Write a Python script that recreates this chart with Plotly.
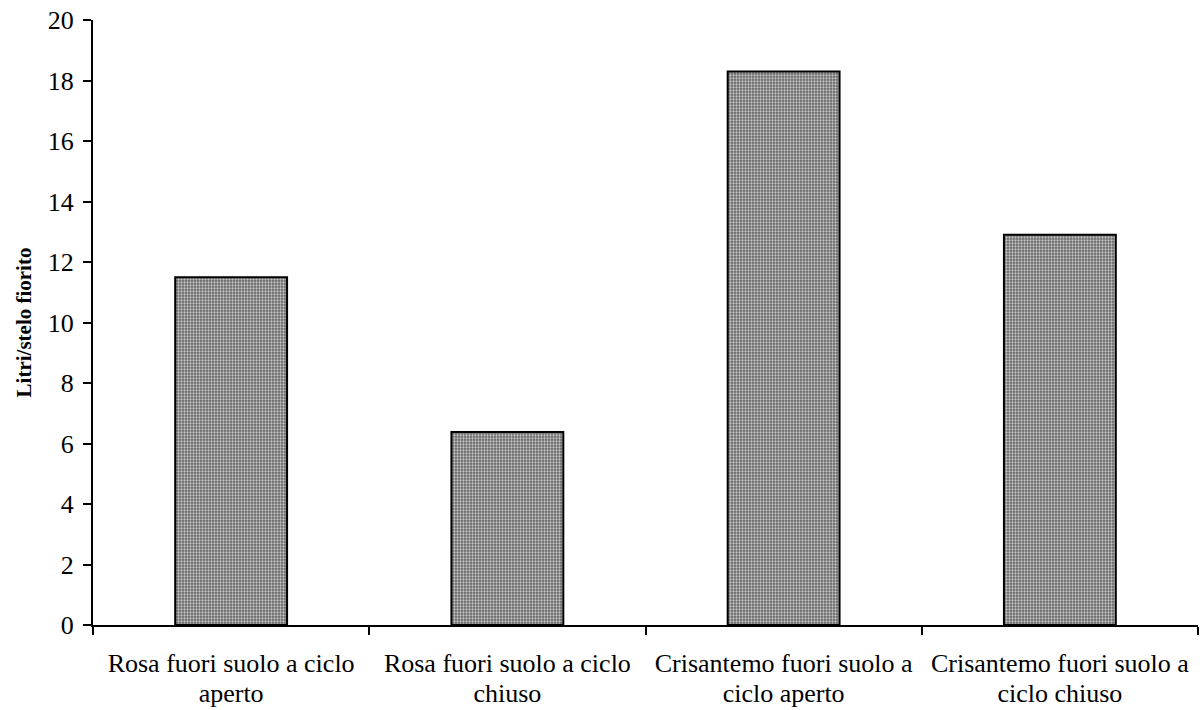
import plotly.graph_objects as go

label_line1 = [
    "Rosa fuori suolo a ciclo",
    "Rosa fuori suolo a ciclo",
    "Crisantemo fuori suolo a",
    "Crisantemo fuori suolo a",
]
label_line2 = ["aperto", "chiuso", "ciclo aperto", "ciclo chiuso"]
categories = [a + " " + b for a, b in zip(label_line1, label_line2)]
values = [11.5, 6.38, 18.3, 12.9]
y_title = "<b>Litri/stelo fiorito</b>"

FONT = "Liberation Serif, Times New Roman, serif"

fig = go.Figure()
fig.add_trace(
    go.Bar(
        x=categories,
        y=values,
        width=0.405,
        hoverinfo="x+y",
        marker=dict(
            color="#808080",
            line=dict(color="black", width=2),
            pattern=dict(
                shape=".",
                bgcolor="#666666",
                fgcolor="#c4c4c4",
                size=3,
                solidity=0.45,
                fillmode="replace",
            ),
        ),
    )
)
# invisible companion trace so the second (label) axis has the same categories
fig.add_trace(
    go.Scatter(
        x=categories,
        y=values,
        xaxis="x2",
        mode="markers",
        marker=dict(opacity=0),
        hoverinfo="skip",
        showlegend=False,
    )
)

fig.update_layout(
    width=1200,
    height=710,
    paper_bgcolor="white",
    plot_bgcolor="white",
    margin=dict(l=93, r=2, t=20, b=85),
    font=dict(family=FONT, color="black", size=26),
    showlegend=False,
    xaxis=dict(
        automargin=False,
        showline=True,
        linecolor="black",
        linewidth=2,
        ticks="outside",
        tickson="boundaries",
        ticklen=8,
        tickwidth=1.5,
        tickcolor="black",
        showgrid=False,
        tickmode="array",
        tickvals=categories,
        ticktext=label_line1,
        ticklabelstandoff=14,
        ticklabeloverflow="allow",
        tickfont=dict(family=FONT, size=26),
    ),
    xaxis2=dict(
        overlaying="x",
        matches="x",
        side="bottom",
        automargin=False,
        showline=False,
        showgrid=False,
        ticks="outside",
        ticklen=8,
        tickcolor="rgba(0,0,0,0)",
        tickmode="array",
        tickvals=categories,
        ticktext=label_line2,
        ticklabelstandoff=37,
        ticklabeloverflow="allow",
        tickfont=dict(family=FONT, size=26),
    ),
    yaxis=dict(
        automargin=False,
        range=[0, 20],
        dtick=2,
        showline=True,
        linecolor="black",
        linewidth=2,
        ticks="outside",
        ticklen=8,
        tickwidth=1.5,
        tickcolor="black",
        showgrid=False,
        zeroline=False,
        ticklabelstandoff=4,
        ticklabeloverflow="allow",
        tickfont=dict(family=FONT, size=26),
        title=dict(text=y_title, font=dict(family=FONT, size=21), standoff=10),
    ),
)

fig.write_html(
    "out.html",
    config={"displayModeBar": False},
    post_script="document.body.style.margin='0';document.body.style.overflow='hidden';",
)
